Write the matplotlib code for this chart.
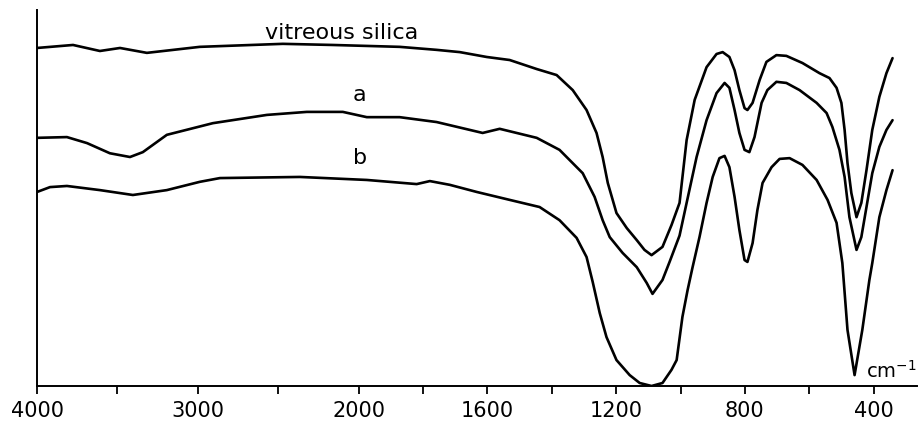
"""IR spectra: vitreous silica, a and b (transmission, arbitrary units)."""
import numpy as np
import matplotlib
matplotlib.use("Agg")
import matplotlib.pyplot as plt

# wavenumber (cm-1) / transmission (arb. units, 0-100)
wn_silica = [4000, 3776, 3609, 3484, 3317, 2988, 2472, 2162, 1873, 1758, 1686, 1602,
             1531, 1447, 1385, 1335, 1292, 1261, 1242, 1226, 1199, 1167, 1136, 1112,
             1090, 1056, 1028, 1003, 981, 956, 919, 888, 869, 848, 832, 817, 801, 792,
             776, 754, 733, 702, 671, 621, 568, 537, 515, 500, 490, 481, 469, 453,
             438, 422, 404, 382, 360, 341]
t_silica = [89.9, 90.7, 89.1, 89.9, 88.6, 90.2, 91.0, 90.7, 90.2, 89.4, 88.8, 87.5,
            86.7, 84.3, 82.7, 78.7, 73.4, 67.3, 60.9, 54.0, 46.0, 42.0, 38.8, 36.2,
            34.8, 37.0, 42.8, 48.7, 65.4, 76.1, 84.8, 88.3, 88.8, 87.5, 84.0, 78.7, 73.9, 73.4,
            75.3, 81.4, 86.2, 88.0, 87.8, 85.9, 83.2, 81.9, 79.3, 75.3, 68.1, 59.3, 51.3, 44.9,
            48.7, 57.4, 68.1, 76.9, 83.2, 87.2]

wn_a = [4000, 3814, 3689, 3547, 3422, 3342, 3193, 2907, 2571, 2323, 2099, 1975, 1873,
        1758, 1615, 1562, 1447, 1376, 1304, 1267, 1242, 1220, 1180, 1136, 1105, 1087,
        1056, 1034, 1003, 981, 950, 919, 888, 863, 848, 832, 817, 801, 786, 770, 748,
        730, 702, 671, 630, 577, 546, 528, 506, 490, 475, 453, 438, 422, 404, 382, 360, 341]
t_a = [66.0, 66.2, 64.6, 61.9, 60.9, 62.2, 66.8, 69.9, 72.1, 72.9, 72.9, 71.5, 71.5,
       70.2, 67.3, 68.4, 66.0, 62.8, 56.6, 50.3, 44.1, 39.6, 35.4, 31.6, 27.4, 24.5,
       28.2, 33.0, 40.0, 48.7, 60.9, 70.7, 77.9, 80.6, 79.3, 73.4, 67.3, 62.8, 62.2, 66.2, 75.3,
       78.7, 80.9, 80.6, 78.7, 75.3, 72.6, 68.9, 62.8, 55.6, 44.9, 36.2, 39.6, 47.6, 56.6,
       63.6, 68.1, 70.7]

wn_b = [4000, 3919, 3814, 3609, 3404, 3193, 2988, 2863, 2366, 1975, 1820, 1779, 1717,
        1633, 1531, 1438, 1376, 1323, 1292, 1273, 1251, 1230, 1199, 1158, 1127, 1090,
        1056, 1028, 1012, 994, 978, 963, 941, 919, 900, 879, 863, 848, 832, 817, 801,
        792, 776, 761, 745, 717, 692, 661, 621, 577, 543, 515, 497, 481, 459, 435, 413,
        404, 382, 360, 341]
t_b = [51.6, 52.9, 53.2, 52.1, 50.8, 52.1, 54.3, 55.3, 55.6, 54.8, 53.7, 54.5, 53.5,
       51.6, 49.5, 47.6, 44.1, 39.4, 34.3, 27.7, 19.4, 13.0, 6.9, 2.9, 0.8, 0.0,
       0.8, 4.3, 6.9, 18.4, 25.5, 31.4, 39.6, 48.7, 55.6, 60.6, 61.2, 58.2, 50.3, 41.5, 33.5,
       33.0, 38.0, 46.8, 54.0, 58.2, 60.4, 60.6, 58.8, 54.8, 49.5, 43.4, 32.7, 14.9, 2.9, 14.9,
       28.2, 32.7, 44.9, 52.1, 57.4]

major_ticks = [4000, 3000, 2000, 1600, 1200, 800, 400]
minor_ticks = [3500, 2500, 1800, 1400, 1000, 600]


# spectrometer chart: 4000-2000 drawn at half the scale of 2000-400
def fwd(w):
    w = np.asarray(w, dtype=float)
    return np.where(w >= 2000, 1000 + w / 2, w)


def inv(u):
    u = np.asarray(u, dtype=float)
    return np.where(u >= 2000, 2 * (u - 1000), u)


fig = plt.figure(figsize=(9.19, 4.24), dpi=100)
ax = fig.add_axes([37 / 919, 1 - 386 / 424, 880 / 919, 376 / 424])
ax.set_xscale("function", functions=(fwd, inv))

kw = dict(color="black", lw=1.9, solid_joinstyle="round", solid_capstyle="round")
ax.plot(wn_silica, t_silica, **kw)
ax.plot(wn_a, t_a, **kw)
ax.plot(wn_b, t_b, **kw)

ax.set_xlim(4000, 265)
ax.set_ylim(0, 100)

ax.set_xticks(major_ticks)
ax.set_xticklabels([str(t) for t in major_ticks], fontsize=15)
ax.set_xticks(minor_ticks, minor=True)
ax.tick_params(axis="x", which="both", direction="out", length=6, width=1.3, pad=5)
ax.set_yticks([])

for s in ["top", "right"]:
    ax.spines[s].set_visible(False)
for s in ["left", "bottom"]:
    ax.spines[s].set_linewidth(1.4)

ax.text(2106, 94, "vitreous silica", fontsize=16, ha="center", va="center")
ax.text(1997, 77.4, "a", fontsize=16, ha="center", va="center")
ax.text(1997, 60.6, "b", fontsize=16, ha="center", va="center")
ax.text(1.0, 0.01, "cm$^{-1}$", fontsize=14, ha="right", va="bottom", transform=ax.transAxes)

fig.savefig("out.png", dpi=100)
